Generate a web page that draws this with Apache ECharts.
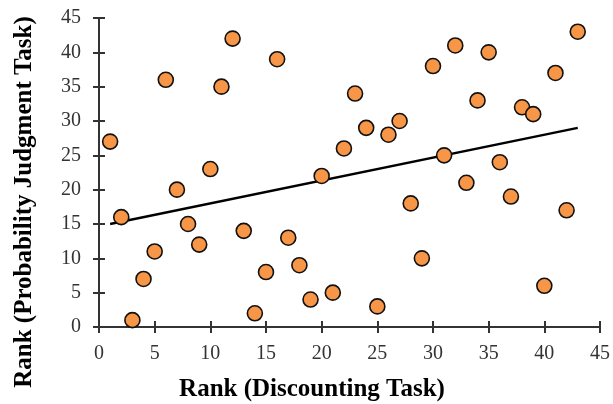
<!DOCTYPE html>
<html><head><meta charset="utf-8">
<script src="https://cdn.jsdelivr.net/npm/echarts@6/dist/echarts.min.js"></script>
<style>html,body{margin:0;padding:0;background:#fff}#c{width:613px;height:404px}</style>
</head><body><div id="c"></div>
<script>
const discountRank = [1,2,3,4,5,6,7,8,9,10,11,12,13,14,15,16,17,18,19,20,21,22,23,24,25,26,27,28,29,30,31,32,33,34,35,36,37,38,39,40,41,42,43];
const probRank = [27,16,1,7,11,36,20,15,12,23,35,42,14,2,8,39,13,9,4,22,5,26,34,29,3,28,30,18,10,38,25,41,21,33,40,24,19,32,31,6,37,17,43];
const trendX = [1,43];
const trendY = [15,29];
const xTitle = 'Rank (Discounting Task)';
const yTitle = 'Rank (Probability Judgment Task)';

const pts = discountRank.map((x,i)=>[x, probRank[i]]);
const trend = trendX.map((x,i)=>[x, trendY[i]]);
const font = '"Liberation Serif","Times New Roman",serif';
const axisCol = '#333';
const chart = echarts.init(document.getElementById('c'));
const common = {min:0,max:45,interval:5,splitLine:{show:false}};
chart.setOption({
  animation:false,
  grid:{left:99,right:12,top:18,bottom:77},
  graphic:[
    {type:'text',x:312,y:390,
     style:{text:xTitle,font:'bold 25px '+font,fill:'#000',align:'center',verticalAlign:'middle'}},
    {type:'text',x:25,y:202,rotation:Math.PI/2,
     style:{text:yTitle,font:'bold 25px '+font,fill:'#000',align:'center',verticalAlign:'middle'}}
  ],
  xAxis:[
    Object.assign({type:'value',
      axisLine:{lineStyle:{color:axisCol,width:2}},
      axisTick:{length:6,lineStyle:{color:axisCol,width:2}},
      axisLabel:{fontFamily:font,fontSize:20,color:'#333',margin:17}},common),
    Object.assign({type:'value',position:'bottom',
      axisLine:{show:false},axisTick:{inside:true,length:6,lineStyle:{color:axisCol,width:2}},
      axisLabel:{show:false}},common)
  ],
  yAxis:[
    Object.assign({type:'value',
      axisLine:{show:true,lineStyle:{color:axisCol,width:2}},
      axisTick:{show:true,length:6,lineStyle:{color:axisCol,width:2}},
      axisLabel:{fontFamily:font,fontSize:20,color:'#333',margin:18}},common),
    Object.assign({type:'value',position:'left',
      axisLine:{show:false},axisTick:{show:true,inside:true,length:6,lineStyle:{color:axisCol,width:2}},
      axisLabel:{show:false}},common)
  ],
  series:[
    {type:'line',data:trend,symbol:'none',lineStyle:{color:'#000',width:2.5},z:3},
    {type:'scatter',data:pts,symbol:'circle',symbolSize:15,
      itemStyle:{color:'#F79646',borderColor:'#111',borderWidth:1.6,opacity:1},z:4}
  ]
});
</script></body></html>
